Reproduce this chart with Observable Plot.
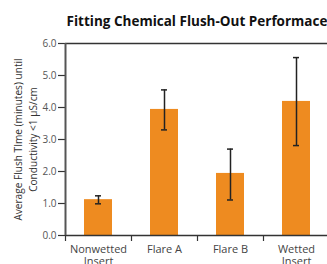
<!DOCTYPE html>
<html>
<head>
<meta charset="utf-8">
<script src="https://cdn.jsdelivr.net/npm/d3@7"></script>
<script src="https://cdn.jsdelivr.net/npm/@observablehq/plot@0.6"></script>
<style>
  body { margin: 0; background: #fff; overflow: hidden; }
  #wrap { width: 327px; height: 264px; position: relative; overflow: hidden; }
  #title { position: absolute; left: 65px; width: 264px; top: 12px; text-align: center;
           font-family: "Open Sans", sans-serif; font-weight: 700; font-size: 13.5px; color: #111; white-space: nowrap; }
  #chart { position: absolute; left: 0; top: 36px; }
</style>
</head>
<body>
<div id="wrap">
  <div id="title">Fitting Chemical Flush-Out Performace</div>
  <div id="chart"></div>
</div>
<script>
const categories = ["Nonwetted\nInsert", "Flare A", "Flare B", "Wetted\nInsert"];
const means = [1.12, 3.94, 1.94, 4.19];
const errLow = [0.99, 3.30, 1.11, 2.81];
const errHigh = [1.24, 4.55, 2.70, 5.56];
const yTicks = [0, 1, 2, 3, 4, 5, 6];
const yLabel = "Average Flush TIme (minutes) until\nConductivity <1 µS/cm";

const data = categories.map((c, i) => ({cat: c, mean: means[i], lo: errLow[i], hi: errHigh[i]}));

const font = "Open Sans, sans-serif";
const plot = Plot.plot({
  width: 327,
  height: 228,
  marginLeft: 65,
  marginRight: -2,
  marginTop: 7,
  marginBottom: 29,
  style: {fontFamily: font, fontSize: "10px", color: "#555", overflow: "visible"},
  x: {domain: categories, paddingInner: 0.58, paddingOuter: 0.29, align: 0.5},
  y: {domain: [0, 6]},
  marks: [
    Plot.barY(data, {x: "cat", y: "mean", fill: "#EE8B20"}),
    Plot.ruleX(data, {x: "cat", y1: "lo", y2: "hi", stroke: "#222", strokeWidth: 1.5}),
    Plot.tickY(data, {x: "cat", y: "hi", stroke: "#222", strokeWidth: 1.5, insetLeft: 11, insetRight: 11}),
    Plot.tickY(data, {x: "cat", y: "lo", stroke: "#222", strokeWidth: 1.5, insetLeft: 11, insetRight: 11}),
    Plot.ruleY([0], {stroke: "#333", strokeWidth: 1.5}),
    Plot.ruleY([6], {stroke: "#333", strokeWidth: 1.5}),
    Plot.axisY({ticks: yTicks, tickFormat: d3.format(".1f"), tickSize: 7, tickPadding: 2, stroke: "#333", strokeWidth: 1.2, fill: "#555", label: null, fontSize: 10}),
    Plot.ruleX([0], {x: () => categories[0], dx: -33, y1: 0, y2: 6, stroke: "#555", strokeWidth: 2}),
    Plot.axisX({tickFormat: null, tickSize: 6, dx: -33, stroke: "#333", strokeWidth: 1.2, label: null}),
    Plot.axisX({tickSize: 0, tickPadding: 9, fill: "#444", fontSize: 11, label: null, lineHeight: 1.1}),
    Plot.text([yLabel], {frameAnchor: "left", dx: -41, rotate: -90, textAnchor: "middle", lineAnchor: "middle", fontSize: 10.1, fill: "#333", lineHeight: 1.5})
  ]
});
document.getElementById("chart").appendChild(plot);
</script>
</body>
</html>
